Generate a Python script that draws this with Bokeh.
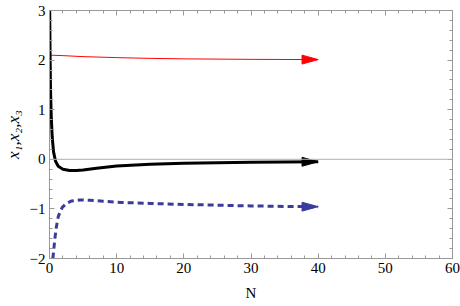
from bokeh.plotting import figure
from bokeh.models import (LinearAxis, Range1d, Span, FixedTicker, CustomJSTickFormatter)
from bokeh.embed import file_html
from bokeh.resources import INLINE

# --- data ---
red_x = [0, 2, 5, 10, 15, 20, 30, 40]
red_y = [2.10, 2.09, 2.07, 2.05, 2.035, 2.025, 2.015, 2.01]

black_x = [0.03, 0.08, 0.15, 0.25, 0.4, 0.6, 0.9, 1.3, 2.0, 3.0, 4.0, 5.0, 7.0, 10, 15, 20, 25, 30, 35, 40]
black_y = [3.0, 2.2, 1.4, 0.9, 0.45, 0.15, -0.04, -0.14, -0.2, -0.225, -0.228, -0.215, -0.18, -0.135, -0.1, -0.08, -0.07, -0.06, -0.055, -0.05]

blue_x = [0.5, 0.65, 0.8, 1.0, 1.3, 1.6, 1.9, 2.5, 3.3, 4.5, 6, 8, 10.7, 15, 20, 25, 30, 35, 40]
blue_y = [-2.0, -1.8, -1.6, -1.38, -1.16, -1.05, -0.97, -0.89, -0.84, -0.82, -0.825, -0.845, -0.87, -0.89, -0.91, -0.925, -0.94, -0.95, -0.955]

x_ticks = [0, 10, 20, 30, 40, 50, 60]
y_ticks = [-2, -1, 0, 1, 2, 3]
x_minor = [v / 2 for v in range(0, 121, 4)]
y_minor = [v / 5 for v in range(-10, 16)]

RED = "#ff0000"
BLACK = "#000000"
BLUE = "#3b3b9c"
FRAME = "#999999"
FONT = "Times New Roman"

p = figure(width=460, height=306, output_backend="svg", toolbar_location=None,
           x_range=Range1d(0, 60), y_range=Range1d(-2, 3),
           min_border_left=48, min_border_right=8, min_border_top=10, min_border_bottom=48)
p.xgrid.visible = False
p.ygrid.visible = False
p.outline_line_color = FRAME
p.background_fill_color = "white"

# zero line
p.add_layout(Span(location=0, dimension="width", line_color="#b0b0b0", line_width=1))

p.line(red_x, red_y, line_color=RED, line_width=1)
p.line(black_x, black_y, line_color=BLACK, line_width=3)
p.line(blue_x, blue_y, line_color=BLUE, line_width=3, line_dash="6 4")

# arrow heads built from the last point of each series
HEAD_LEN = 2.4   # x units
HEAD_HW = 0.09   # y units
xs, ys, cs = [], [], []
for sx, sy, c in ((red_x, red_y, RED), (black_x, black_y, BLACK), (blue_x, blue_y, BLUE)):
    xe, ye = sx[-1], sy[-1]
    xs.append([xe - HEAD_LEN, xe, xe - HEAD_LEN])
    ys.append([ye + HEAD_HW, ye, ye - HEAD_HW])
    cs.append(c)
p.patches(xs, ys, fill_color=cs, line_color=cs, line_width=1)

fmt = CustomJSTickFormatter(code="return tick < 0 ? '\u2212' + Math.abs(tick) : String(tick);")
blank = CustomJSTickFormatter(code="return '';")

def style(ax):
    ax.axis_line_color = FRAME
    ax.major_tick_line_color = FRAME
    ax.minor_tick_line_color = FRAME
    ax.major_tick_in = 5
    ax.major_tick_out = 0
    ax.minor_tick_in = 3
    ax.minor_tick_out = 0
    ax.major_label_text_font = FONT
    ax.major_label_text_font_size = "15px"
    ax.major_label_text_color = "black"
    ax.major_label_standoff = 4

xa = p.xaxis[0]
ya = p.yaxis[0]
xa.ticker = FixedTicker(ticks=x_ticks, minor_ticks=x_minor)
ya.ticker = FixedTicker(ticks=y_ticks, minor_ticks=y_minor)
xa.formatter = fmt
ya.formatter = fmt
style(xa)
style(ya)
xa.axis_label = "N"
ya.axis_label = "x\u2081,x\u2082,x\u2083"
for ax in (xa, ya):
    ax.axis_label_text_font = FONT
    ax.axis_label_text_color = "black"
xa.axis_label_text_font_style = "normal"
ya.axis_label_text_font_style = "italic"
xa.axis_label_text_font_size = "15px"
ya.axis_label_text_font_size = "17px"
xa.axis_label_standoff = 9
ya.axis_label_standoff = 4

top = LinearAxis(ticker=FixedTicker(ticks=x_ticks, minor_ticks=x_minor), formatter=blank)
right = LinearAxis(ticker=FixedTicker(ticks=y_ticks, minor_ticks=y_minor), formatter=blank)
style(top)
style(right)
top.major_label_standoff = 0
right.major_label_standoff = 0
p.add_layout(top, "above")
p.add_layout(right, "right")

open("out.html", "w").write(file_html(p, INLINE))
